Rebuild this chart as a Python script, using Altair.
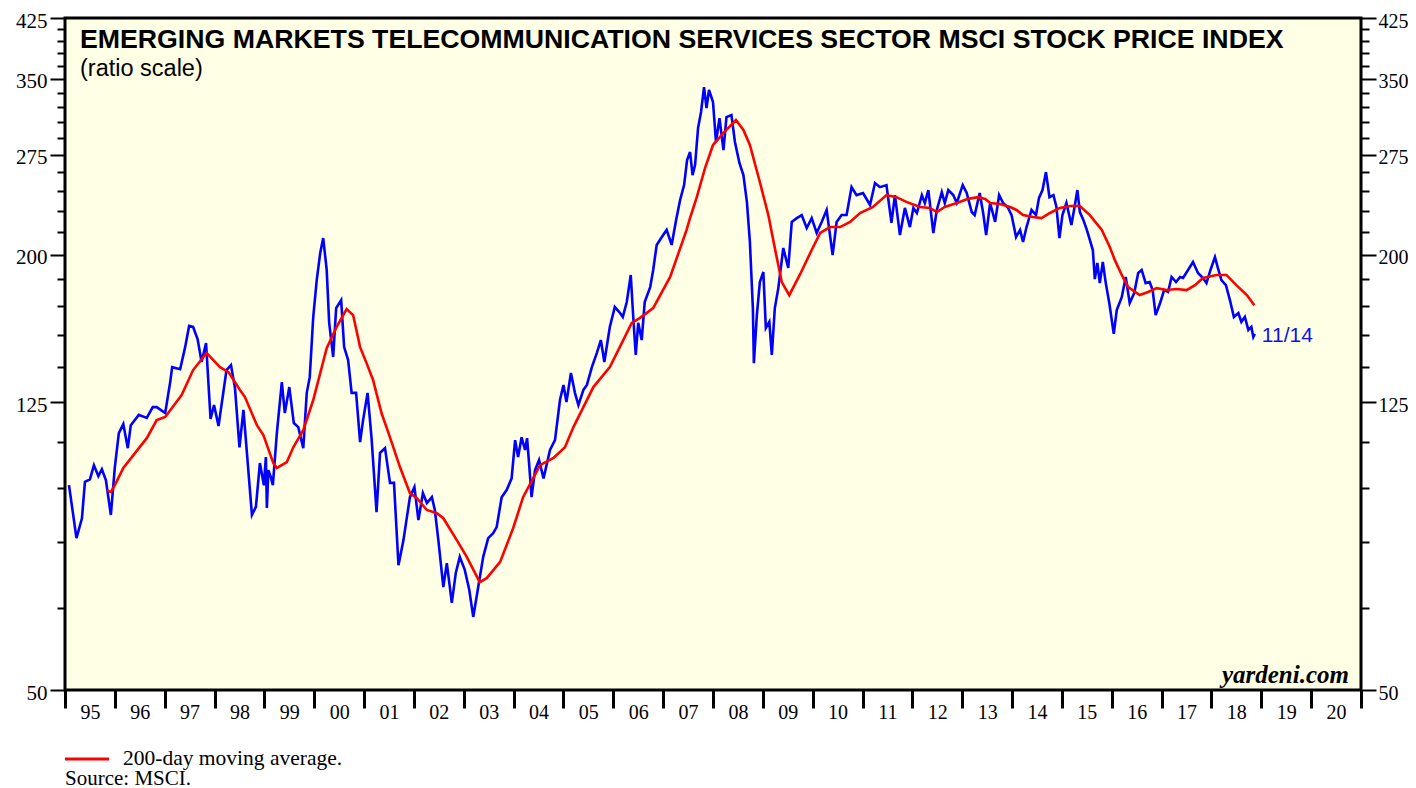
import altair as alt
import pandas as pd

# ---- data (fractional year, index level) ----
blue_t = [1995.08, 1995.23, 1995.34, 1995.40, 1995.50, 1995.58, 1995.67, 1995.74, 1995.82, 1995.92,
          1996.00, 1996.08, 1996.17, 1996.26, 1996.32, 1996.48, 1996.64, 1996.76, 1996.84, 1997.01,
          1997.11, 1997.15, 1997.31, 1997.41, 1997.49, 1997.57, 1997.66, 1997.74, 1997.83, 1997.92,
          1997.99, 1998.08, 1998.24, 1998.33, 1998.41, 1998.50, 1998.58, 1998.75, 1998.83, 1998.91,
          1998.99, 1999.03, 1999.05, 1999.08, 1999.13, 1999.17, 1999.25, 1999.35, 1999.41, 1999.50,
          1999.59, 1999.68, 1999.78, 1999.85, 1999.91, 1999.98, 2000.05, 2000.12, 2000.18, 2000.25,
          2000.30, 2000.38, 2000.44, 2000.54, 2000.60, 2000.68, 2000.75, 2000.84, 2000.92, 2000.98,
          2001.07, 2001.15, 2001.25, 2001.32, 2001.42, 2001.52, 2001.60, 2001.69, 2001.79, 2001.85,
          2001.92, 2002.01, 2002.09, 2002.18, 2002.26, 2002.36, 2002.42, 2002.49, 2002.59, 2002.66,
          2002.76, 2002.84, 2002.92, 2003.02, 2003.11, 2003.19, 2003.29, 2003.39, 2003.49, 2003.59,
          2003.66, 2003.76, 2003.86, 2003.96, 2004.03, 2004.09, 2004.16, 2004.23, 2004.27, 2004.31,
          2004.36, 2004.43, 2004.51, 2004.60, 2004.73, 2004.83, 2004.93, 2005.00, 2005.06, 2005.15,
          2005.23, 2005.30, 2005.40, 2005.47, 2005.57, 2005.67, 2005.75, 2005.82, 2005.93, 2006.03,
          2006.12, 2006.19, 2006.27, 2006.35, 2006.40, 2006.45, 2006.50, 2006.57, 2006.63, 2006.74,
          2006.80, 2006.87, 2007.00, 2007.07, 2007.17, 2007.26, 2007.34, 2007.42, 2007.48, 2007.54,
          2007.59, 2007.64, 2007.70, 2007.76, 2007.82, 2007.87, 2007.92, 2008.00, 2008.06, 2008.13,
          2008.21, 2008.27, 2008.37, 2008.44, 2008.53, 2008.61, 2008.68, 2008.74, 2008.80, 2008.82,
          2008.88, 2008.94, 2009.01, 2009.06, 2009.13, 2009.18, 2009.24, 2009.31, 2009.41, 2009.51,
          2009.58, 2009.68, 2009.78, 2009.88, 2009.98, 2010.08, 2010.18, 2010.28, 2010.40, 2010.48,
          2010.58, 2010.68, 2010.78, 2010.88, 2011.01, 2011.15, 2011.25, 2011.35, 2011.48, 2011.58,
          2011.65, 2011.75, 2011.85, 2011.95, 2012.02, 2012.09, 2012.19, 2012.25, 2012.32, 2012.42,
          2012.49, 2012.59, 2012.65, 2012.72, 2012.82, 2012.89, 2013.01, 2013.09, 2013.19, 2013.25,
          2013.35, 2013.42, 2013.48, 2013.56, 2013.66, 2013.74, 2013.82, 2013.91, 2013.99, 2014.08,
          2014.16, 2014.22, 2014.29, 2014.39, 2014.48, 2014.54, 2014.61, 2014.68, 2014.75, 2014.83,
          2014.89, 2014.95, 2015.01, 2015.09, 2015.19, 2015.25, 2015.31, 2015.36, 2015.43, 2015.50,
          2015.56, 2015.62, 2015.66, 2015.71, 2015.76, 2015.82, 2015.88, 2015.95, 2016.04, 2016.10,
          2016.20, 2016.28, 2016.36, 2016.45, 2016.53, 2016.60, 2016.68, 2016.76, 2016.82, 2016.88,
          2016.97, 2017.05, 2017.13, 2017.20, 2017.29, 2017.37, 2017.43, 2017.53, 2017.63, 2017.73,
          2017.83, 2017.90, 2017.98, 2018.07, 2018.14, 2018.20, 2018.29, 2018.37, 2018.45, 2018.54,
          2018.60, 2018.67, 2018.74, 2018.80, 2018.84, 2018.87]
blue_v = [96.0, 81.1, 86.4, 97.0, 97.8, 102.3, 98.8, 101.0, 97.6, 87.3,
          101.7, 113.3, 116.6, 108.0, 116.2, 120.1, 118.9, 123.1, 123.1, 120.8,
          133.3, 139.8, 138.9, 149.0, 159.4, 158.9, 152.9, 142.1, 150.9, 118.5,
          123.9, 115.9, 138.5, 140.7, 130.8, 108.3, 122.0, 87.3, 89.6, 103.0,
          96.0, 105.0, 89.3, 100.7, 98.5, 96.0, 113.3, 133.3, 120.8, 131.2,
          117.0, 115.5, 108.0, 128.8, 135.4, 164.0, 184.5, 201.1, 210.9, 190.5,
          161.0, 144.4, 168.7, 173.1, 149.0, 143.0, 128.8, 128.8, 110.1, 118.1,
          128.8, 111.5, 88.1, 106.4, 108.0, 96.7, 96.7, 74.4, 80.6, 85.9,
          92.4, 95.4, 85.9, 93.6, 90.7, 92.4, 88.7, 80.6, 69.4, 74.9,
          66.0, 72.6, 76.4, 73.3, 68.8, 63.1, 69.4, 76.4, 81.1, 82.4,
          84.0, 92.4, 94.5, 98.1, 110.8, 105.0, 111.8, 107.4, 111.5, 103.0,
          92.4, 100.7, 104.0, 98.1, 107.4, 110.8, 125.9, 132.1, 125.1, 137.2,
          128.8, 123.9, 130.0, 132.1, 139.8, 146.3, 152.4, 142.1, 158.9, 169.3,
          166.6, 164.0, 172.0, 187.5, 164.0, 145.3, 161.0, 152.4, 172.0, 180.4,
          190.5, 206.3, 212.9, 216.4, 206.3, 223.4, 238.1, 249.6, 270.4, 277.3,
          257.7, 266.1, 299.3, 315.1, 341.1, 319.1, 337.9, 325.2, 286.4, 309.0,
          279.1, 310.0, 312.0, 286.4, 267.8, 257.7, 236.6, 208.3, 168.7, 141.6,
          165.0, 183.3, 189.3, 158.4, 161.5, 145.3, 168.7, 179.8, 204.3, 191.7,
          222.0, 224.7, 226.9, 217.7, 224.7, 214.3, 222.0, 230.6, 199.8, 222.0,
          226.9, 226.9, 248.0, 241.8, 243.4, 234.3, 251.3, 248.0, 249.6, 221.3,
          241.8, 212.9, 232.1, 218.4, 232.1, 228.4, 241.8, 235.8, 245.7, 214.3,
          230.6, 244.1, 235.8, 245.7, 241.8, 235.8, 249.6, 243.4, 229.1, 226.9,
          243.4, 228.4, 212.9, 235.8, 222.0, 241.8, 235.8, 232.8, 226.9, 211.6,
          216.4, 208.3, 218.4, 230.6, 226.9, 239.6, 245.7, 260.2, 240.2, 241.8,
          232.8, 210.9, 226.9, 235.8, 219.8, 232.1, 245.7, 229.1, 223.4, 216.4,
          209.6, 203.0, 185.0, 194.8, 182.7, 195.4, 182.7, 171.5, 155.4, 167.7,
          174.7, 186.3, 171.5, 177.0, 188.7, 190.5, 182.7, 183.3, 178.7, 165.0,
          171.5, 178.7, 177.6, 186.3, 183.3, 186.3, 185.7, 190.5, 195.4, 188.7,
          185.7, 182.7, 190.5, 198.5, 190.5, 184.5, 181.5, 173.1, 164.0, 166.1,
          161.5, 164.0, 157.4, 158.9, 153.9, 155.4]

red_t = [1995.84, 1995.92, 1996.00, 1996.17, 1996.64, 1996.84, 1997.01, 1997.34, 1997.57, 1997.84,
         1998.11, 1998.28, 1998.51, 1998.61, 1998.85, 1998.98, 1999.18, 1999.25, 1999.45, 1999.58,
         1999.78, 1999.98, 2000.25, 2000.45, 2000.65, 2000.78, 2000.92, 2001.05, 2001.18, 2001.35,
         2001.52, 2001.72, 2001.92, 2002.06, 2002.26, 2002.46, 2002.59, 2002.86, 2003.06, 2003.32,
         2003.46, 2003.73, 2003.99, 2004.19, 2004.53, 2004.80, 2005.03, 2005.20, 2005.60, 2005.93,
         2006.13, 2006.37, 2006.53, 2006.80, 2007.14, 2007.47, 2007.54, 2007.67, 2007.84, 2008.00,
         2008.21, 2008.46, 2008.61, 2008.74, 2008.94, 2009.11, 2009.24, 2009.38, 2009.53, 2009.74,
         2009.98, 2010.15, 2010.35, 2010.55, 2010.75, 2010.95, 2011.21, 2011.48, 2011.68, 2011.88,
         2012.15, 2012.35, 2012.49, 2012.65, 2012.89, 2013.12, 2013.32, 2013.46, 2013.56, 2013.76,
         2013.96, 2014.09, 2014.22, 2014.42, 2014.59, 2014.76, 2014.96, 2015.16, 2015.36, 2015.56,
         2015.80, 2015.96, 2016.06, 2016.20, 2016.33, 2016.56, 2016.73, 2016.90, 2017.10, 2017.30,
         2017.50, 2017.67, 2017.83, 2018.10, 2018.30, 2018.50, 2018.71, 2018.86]
red_v = [94.5, 93.9, 96.0, 101.4, 111.5, 118.1, 119.3, 127.9, 138.5, 146.3,
         139.8, 137.6, 130.0, 127.1, 116.2, 112.6, 103.0, 101.4, 103.3, 108.3,
         114.4, 125.9, 148.5, 158.9, 168.2, 165.0, 149.0, 141.6, 134.2, 120.8,
         111.8, 101.7, 93.6, 92.1, 88.7, 87.8, 86.4, 80.6, 76.4, 70.5,
         71.4, 75.2, 83.7, 92.4, 102.3, 104.7, 108.3, 115.5, 131.2, 139.8,
         149.0, 161.0, 163.4, 168.7, 186.3, 216.4, 224.8, 239.6, 263.5, 283.6,
         294.7, 307.1, 297.5, 283.6, 252.1, 226.9, 204.3, 183.3, 175.8, 187.5,
         203.0, 214.3, 218.4, 218.4, 222.0, 228.4, 232.8, 241.8, 240.2, 236.6,
         232.8, 232.1, 229.1, 232.8, 235.8, 238.9, 240.2, 238.9, 235.8, 235.1,
         232.8, 230.6, 226.9, 225.5, 224.7, 228.4, 232.1, 233.6, 233.6, 226.9,
         216.4, 205.0, 196.7, 187.5, 180.4, 175.9, 177.6, 179.8, 178.7, 179.3,
         178.7, 181.5, 185.7, 187.5, 187.5, 181.5, 175.9, 170.3]

year_ticks = list(range(1995, 2022))
y_ticks = list(range(50, 426, 15))
last_label = "11/14"
title_text = "EMERGING MARKETS TELECOMMUNICATION SERVICES SECTOR MSCI STOCK PRICE INDEX"
subtitle_text = "(ratio scale)"
legend_text = "200-day moving average."
source_text = "Source: MSCI."
brand_text = "yardeni.com"

blue_df = pd.DataFrame({"t": blue_t, "v": blue_v})
red_df = pd.DataFrame({"t": red_t, "v": red_v})
last_df = pd.DataFrame({"t": [blue_t[-1]], "v": [blue_v[-1]], "txt": [last_label]})

SERIF = "Liberation Serif"
SANS = "Liberation Sans"

xscale = alt.Scale(domain=[1995, 2021], nice=False, zero=False)
yscale = alt.Scale(type="log", domain=[50, 425], nice=False)

major_test = "(datum.value - 50) % 75 == 0"

x_axis = alt.Axis(values=year_ticks, title=None, grid=False, domain=False,
                  tickSize=18, tickWidth=3, tickColor="black",
                  labelOffset=24.9, labelPadding=-6,
                  labelExpr="datum.value >= 2021 ? '' : substring(toString(datum.value), 2, 4)",
                  labelFont=SERIF, labelFontSize=20, labelColor="black",
                  labelFlush=False, labelOverlap=False, labelBound=False)


def y_axis(orient, pad, size):
    return alt.Axis(orient=orient, values=y_ticks, title=None, grid=False, domain=False,
                    format="d",
                    labelExpr=f"{major_test} ? datum.label : ''",
                    tickSize={"condition": {"test": major_test, "value": 15}, "value": 8},
                    tickWidth=2, tickColor="black",
                    labelFont=SERIF, labelFontSize=size, labelColor="black",
                    labelPadding=pad, labelOffset=3, labelOverlap=False, labelFlush=False)


blue = alt.Chart(blue_df).mark_line(color="#0000FF", strokeWidth=2.6).encode(
    x=alt.X("t:Q", scale=xscale, axis=x_axis),
    y=alt.Y("v:Q", scale=yscale, axis=y_axis("left", 3, 21)),
)
red = alt.Chart(red_df).mark_line(color="#FF0000", strokeWidth=2.6).encode(
    x=alt.X("t:Q", scale=xscale, axis=x_axis),
    y=alt.Y("v:Q", scale=yscale, axis=y_axis("right", 2, 20)),
)
last = alt.Chart(last_df).mark_text(align="left", baseline="middle", dx=7, dy=2, font=SANS,
                                    fontSize=21, color="#1010F0").encode(
    x=alt.X("t:Q", scale=xscale, axis=x_axis),
    y=alt.Y("v:Q", scale=yscale, axis=None),
    text="txt:N",
)


def label(txt, x, y, **kw):
    return alt.Chart(pd.DataFrame({"s": [txt]})).mark_text(**kw).encode(
        x=alt.value(x), y=alt.value(y), text="s:N")


title = label(title_text, 15, 30, align="left", baseline="alphabetic", font=SANS,
              fontSize=26.7, fontWeight="bold", color="black")
subtitle = label(subtitle_text, 15, 58, align="left", baseline="alphabetic", font=SANS,
                 fontSize=23.5, color="black")
brand = label(brand_text, 1284, 665, align="right", baseline="alphabetic", font=SERIF,
              fontSize=25, fontWeight="bold", fontStyle="italic", color="black")
legend_txt = label(legend_text, 58, 747, align="left", baseline="alphabetic", font=SERIF,
                   fontSize=21.5, color="black")
source_txt = label(source_text, 0, 767, align="left", baseline="alphabetic", font=SERIF,
                   fontSize=21, color="black")
legend_line = alt.Chart(pd.DataFrame({"a": [0]})).mark_rule(color="#FF0000", strokeWidth=3).encode(
    x=alt.value(0), x2=alt.value(44), y=alt.value(741))

chart = alt.layer(blue, red, last, title, subtitle, brand, legend_txt, source_txt, legend_line).resolve_scale(
    y="shared").resolve_axis(y="independent").properties(
    width=1296, height=672, autosize="none",
    padding={"left": 57, "top": 10, "right": 47, "bottom": 100},
    background="white",
).configure_view(fill="#FFFFE6", stroke="black", strokeWidth=3)

chart.save("out.html", embed_options={"renderer": "svg", "actions": False})
